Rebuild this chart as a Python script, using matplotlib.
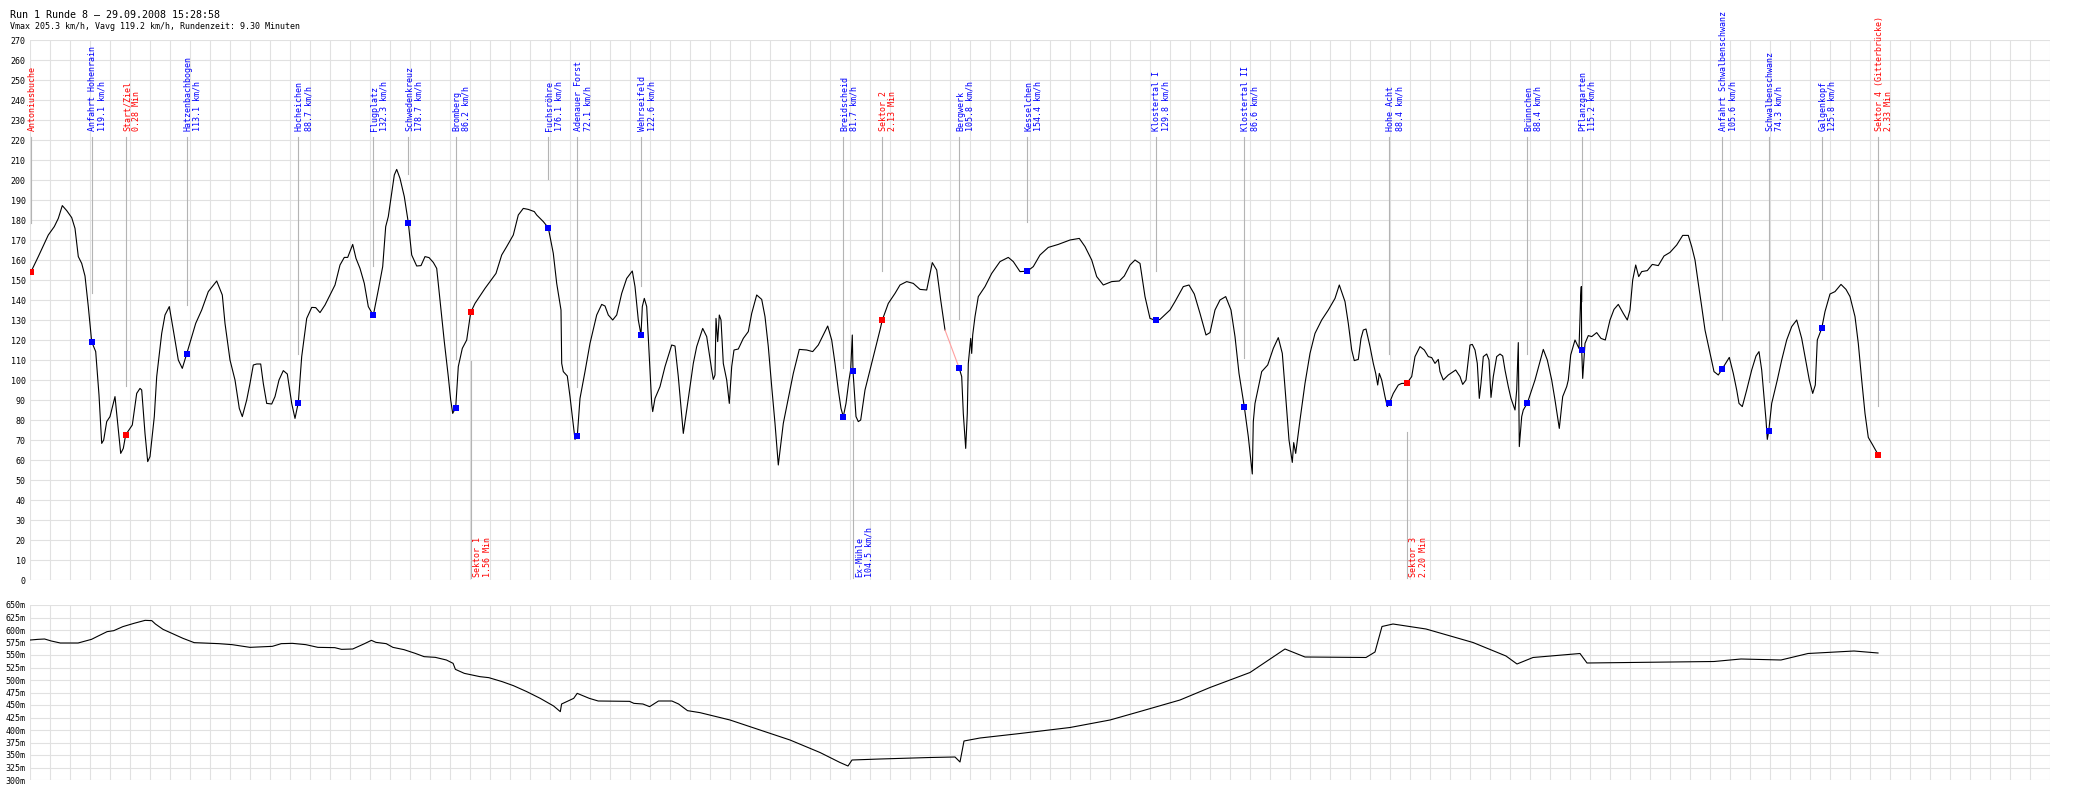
import matplotlib
matplotlib.use("Agg")
import matplotlib.pyplot as plt
import numpy as np

# ── Data: speed trace (x = track position in plot px, value in km/h) ─────────
dist = [0.7, 8.3, 18.3, 24.3, 28.3, 32.3, 36.7, 41.7, 45, 48.3, 51.7, 55, 58.3, 61.7, 65.7, 69, 71.7, 73.7,
        76.7, 80, 85, 87.7, 90.7, 93.3, 95.7, 102.3, 106.7, 110, 111.7, 115, 117.7, 120, 124.3, 126.7, 131.7,
        135, 139.3, 143.3, 148.3, 152.3, 156.7, 165.7, 171.7, 178.3, 186.7, 192.3, 195, 200, 205, 209.3,
        212.3, 216.7, 220, 223.3, 226.7, 230.7, 233.3, 236.7, 241.7, 245, 249, 253.3, 257.3, 261.7, 265,
        268.3, 271.7, 276.7, 281.7, 285.7, 290, 295, 300, 305, 310, 314.3, 317.7, 322.7, 326, 330, 334.3,
        338.3, 343.3, 348.3, 352.7, 355.7, 358.3, 361.7, 364.3, 366.7, 370, 374.3, 378.3, 381.7, 386.7, 391,
        395, 399, 403.3, 406.7, 410, 414.3, 418.3, 420.7, 422.7, 425.7, 428.3, 432.3, 436.7, 440.7, 445,
        455, 466, 471.7, 476.7, 483.3, 488.3, 493.3, 498.3, 504.3, 506.7, 513.3, 518.3, 523.3, 526.7, 531,
        531.7, 533.3, 537.3, 540, 542.7, 545, 547.3, 550, 555, 560, 566.7, 571.7, 575, 578.3, 582.7, 586.7,
        591.7, 596.7, 602.3, 605, 608.3, 611, 612.3, 614.3, 616.7, 619.3, 621.7, 622.7, 625, 630, 635,
        641.7, 645, 648.3, 653.3, 656.7, 663.3, 666.7, 672.7, 676.7, 681.7, 683.3, 685, 686, 687.7, 689.3,
        691, 693.3, 696.7, 699.3, 701.7, 704, 708.3, 713.3, 718.3, 721.7, 726.7, 731.7, 735, 738.3, 741.7,
        745, 748.3, 753.3, 758.3, 763.3, 769.3, 776.7, 782.7, 788.3, 793.3, 797.7, 801.7, 805, 808.3, 811,
        813.3, 816, 819, 820.7, 822.3, 823, 826, 828.3, 830.7, 835, 840, 846.7, 850, 852.3, 858.3, 865, 870,
        876.7, 883.3, 890, 896.7, 902.3, 906.7, 910.7, 915, 929.3, 931.7, 933.3, 935.7, 937.3, 938.3, 940.7,
        941.7, 942.7, 945, 948.3, 955, 961.7, 970, 978.3, 983.3, 990, 997.3, 1003.3, 1010, 1018.3, 1028.3,
        1040, 1049.3, 1055, 1061.7, 1066.7, 1073.3, 1081.7, 1089.3, 1094.3, 1100, 1105, 1110, 1115, 1120,
        1125.7, 1130, 1140, 1145, 1153.3, 1159, 1164.3, 1170, 1176, 1180, 1185, 1190, 1195.7, 1201, 1205,
        1209, 1214.3, 1218.3, 1222.3, 1223.3, 1225, 1231.7, 1237.7, 1243.3, 1248.3, 1252.3, 1255.7, 1259,
        1262.3, 1263.7, 1265.7, 1270, 1275, 1280, 1285, 1291.7, 1298.3, 1305, 1309.3, 1315, 1318.3, 1321.7,
        1324.3, 1328.3, 1331, 1333.3, 1336, 1340, 1343.3, 1345.7, 1347.7, 1349.3, 1351.7, 1355, 1357.3,
        1359.3, 1363.3, 1368.3, 1371.7, 1376.7, 1381.7, 1385, 1390, 1394.3, 1398.3, 1401.7, 1405, 1408.3,
        1410, 1413.3, 1418.3, 1425.7, 1430, 1432.7, 1436, 1440, 1442.3, 1445, 1447.3, 1449.3, 1451, 1453.3,
        1456.7, 1459, 1461, 1463.3, 1466.7, 1470, 1472.7, 1475, 1478.3, 1481, 1485, 1486.7, 1488.3, 1489.3,
        1491.7, 1493.3, 1497.3, 1505, 1513.3, 1517.3, 1521.7, 1525, 1529.3, 1532.7, 1536.7, 1538.3, 1540.7,
        1545, 1549, 1550.7, 1551.3, 1551.7, 1552.7, 1555, 1558.3, 1561.7, 1566.7, 1571, 1575.3, 1580, 1584,
        1588.3, 1593.3, 1597.3, 1600, 1602.7, 1605.7, 1608.7, 1611.7, 1617.3, 1622.3, 1628.3, 1634, 1640,
        1646.7, 1652.7, 1658.3, 1661.7, 1665, 1668.3, 1671.7, 1675, 1680, 1684, 1688.3, 1692.3, 1699.3,
        1703.3, 1706.7, 1709, 1712.3, 1716.7, 1721.7, 1726, 1729, 1731.7, 1734, 1736, 1737.3, 1738.7, 1741.7,
        1747.3, 1751.7, 1756.7, 1761.7, 1766.7, 1771.7, 1775.7, 1779.3, 1782.7, 1785.3, 1787.3, 1791.7, 1795,
        1800, 1805, 1811, 1816, 1820, 1825, 1828.3, 1831.7, 1835, 1838.3, 1842.7, 1848.3]
speed = [153.8, 161.7, 172.5, 176.7, 180.8, 187.2, 184.7, 181.2, 175.8, 161.7, 158.3, 152, 136.7, 119.1, 114.2,
         92.5, 68.3, 70, 79.2, 81.7, 91.7, 78.3, 63.3, 65.8, 72.6, 77.5, 93.3, 95.8, 95, 73.3, 59.2, 61.7,
         81.7, 101.7, 123.3, 132.5, 136.7, 125, 110, 105.8, 113.1, 128.3, 135, 144.2, 149.5, 142.5, 128.3,
         110, 100, 85.8, 81.7, 90, 98.3, 107.5, 108, 108, 98.3, 88.3, 88, 91.7, 100, 104.7, 103, 88.3, 80.8,
         88.7, 111.7, 130.8, 136.3, 136.2, 133.7, 137.5, 142.5, 147.5, 157.5, 161.3, 161.3, 167.8, 160.8,
         155.8, 148.3, 136.7, 132.3, 145, 156.7, 176.7, 181.7, 193.3, 202.5, 205.3, 200.8, 191.7, 178.7,
         162.5, 157, 157.2, 161.7, 161.2, 158.8, 155.8, 140, 119.2, 101.7, 90, 83.3, 86.2, 106.7, 115.8, 120,
         133.8, 138.3, 145.8, 153.3, 162.5, 166.7, 172.5, 182.5, 185.8, 185.3, 184.2, 182.5, 179.2, 176.1,
         163.3, 148.3, 135, 108.3, 104.2, 102, 91.7, 80, 70.3, 72.1, 90.8, 104.2, 118.3, 132.5, 137.8, 137,
         132.5, 130, 132.5, 143.3, 150.8, 154.5, 146.7, 130, 122.6, 136.7, 140.8, 136.7, 111.7, 88.3, 84.2,
         90.8, 96.7, 106.7, 117.5, 117, 101.7, 73.3, 85, 108.3, 116.7, 125.8, 121.7, 105, 100.3, 102.5, 130.8,
         119.2, 132.5, 130, 108.3, 100, 88.3, 106.7, 115, 115.5, 120.8, 124.2, 133.3, 142.5, 140.3, 131.7,
         116.7, 96.7, 78.3, 57.5, 78.3, 90.8, 103.3, 115.3, 115, 114.2, 117.5, 122.5, 127, 120, 108.3, 95,
         85.8, 81.7, 88.3, 100, 105.3, 122.5, 104.5, 81.7, 79.2, 80, 95, 105, 118.3, 125, 130, 138.3, 143.3,
         147.5, 149.2, 148.3, 145.3, 145, 158.7, 155, 140, 125, 105.8, 101.7, 83.3, 65.8, 83.3, 108.3, 120.8,
         113.3, 122.5, 131.7, 141.7, 146.7, 153.3, 159.2, 161.3, 159.2, 154.2, 154.4, 156.7, 162.5, 166.3,
         167.8, 170, 170.8, 166.7, 160, 151.7, 147.5, 149.2, 149.5, 152, 157.5, 160, 158.3, 141.7, 130.8,
         129.8, 130.3, 135, 139.2, 146.7, 147.5, 143, 133.3, 122.5, 123.7, 135, 140, 141.7, 135, 121.7, 103.3,
         86.6, 71.7, 53, 79.2, 88.3, 104.2, 107.5, 115.8, 121.2, 113.3, 91.7, 70, 58.8, 68.7, 63.3, 80, 98.3,
         113.3, 123.3, 130, 135, 140.8, 147.5, 139.2, 128.3, 115, 109.7, 110.3, 120.8, 125, 125.5, 116.7,
         108.3, 103.3, 97.5, 103.3, 100, 91.7, 86.7, 88.4, 93.3, 97.5, 98.3, 98.3, 101.7, 111.7, 116.7, 115,
         111.7, 111.2, 108.3, 110.3, 104.2, 100, 102.5, 105, 101.7, 97.8, 100, 117.5, 117.8, 115, 108.3, 90.8,
         98.3, 111.7, 113, 110, 91.3, 101.7, 111.7, 113, 112, 105, 96.7, 90.8, 85, 95, 118.7, 66.7, 81.7, 85,
         88.4, 100, 115.3, 110, 100, 90, 75.8, 91.7, 96.7, 100, 112.5, 120, 115.8, 141.7, 146.7, 115.2, 100.8,
         118.3, 122.2, 121.7, 123.7, 120.8, 120, 130, 135.3, 137.8, 133.3, 130, 135, 150, 157.5, 151.7, 154.2,
         154.7, 157.8, 157.2, 162, 163.8, 167.5, 172.3, 172.3, 166.7, 160, 148.3, 136.7, 125, 113.3, 104.2,
         102.5, 105.6, 111.3, 103.3, 95, 88.3, 86.7, 95, 105, 112, 114.2, 105, 91.7, 80, 70.3, 74.3, 88.3, 100,
         110, 120, 126.7, 130, 120.8, 110, 100, 93.3, 97.5, 120, 125.8, 134.2, 143, 144.2, 147.8, 145.3,
         141.7, 131.7, 118.3, 100, 83.3, 71.3, 67.5, 62.5]
GAP_START, GAP_END = 915, 929.3   # segment without data (drawn pink)

# ── Data: elevation profile (m) ──────────────────────────────────────────────
elev_x = [0.4, 8, 14.6, 21.3, 30.3, 48.1, 61.5, 68.2, 77.1, 83.8, 92.8, 103.9, 115.1, 121.8, 125.4, 133, 141.9,
          153, 164.2, 188.8, 202.1, 220, 242.3, 251.3, 262.4, 275.8, 287.9, 304.8, 311.5, 322.7, 333.8, 341.4,
          345.9, 356.2, 362.9, 374, 385.2, 394.1, 405.3, 416.4, 423.1, 425.4, 434.3, 449.9, 458.8, 472.2,
          483.4, 496.8, 510.2, 523.6, 530.3, 531.6, 543.7, 547.2, 559.3, 568.2, 599.5, 603.9, 612.9, 619.6,
          628.5, 641.9, 648.6, 657.5, 670, 700, 730, 760, 790, 810, 818, 822, 850, 900, 925, 930, 934, 950,
          990, 1040, 1080, 1110, 1150, 1180, 1220, 1255, 1275, 1336, 1345, 1352, 1363, 1396, 1443, 1476, 1487,
          1503, 1550, 1557, 1684, 1711, 1751, 1778, 1824, 1848]
elev_m = [580, 581.3, 582, 578, 574, 574, 581.3, 588, 596.7, 598.7, 606.7, 613.3, 619.3, 618.7, 612, 601.3,
          593.3, 583.3, 574.7, 572.7, 570.7, 565.3, 567.3, 572.7, 573.3, 570.7, 565.3, 564.7, 561.3, 562, 572,
          579.3, 575.3, 572.7, 565.3, 560.7, 553.3, 546.7, 545.3, 540, 533.3, 521.3, 513.3, 506.7, 504.7,
          496.7, 488.7, 476.7, 463.3, 448, 436.7, 452, 463.3, 473.3, 463.3, 458, 457.3, 453.3, 452, 446.7, 458,
          458, 452, 438.7, 434.7, 420, 400, 380, 355, 335, 328, 340, 342, 345, 346, 336, 378, 384, 393, 405,
          420, 437, 460, 485, 515, 562, 546, 545, 556, 607, 612, 602, 575, 548, 532, 545, 553, 534, 537, 542,
          540, 553, 558, 554]

# ── Data: waypoints / sector markers ─────────────────────────────────────────
mark_x = [0.7, 61.7, 95.7, 156.7, 268.3, 343.3, 378.3, 425.7, 440.7, 518.3, 547.3, 611, 813.3, 823, 852.3,
          929.3, 997.3, 1125.7, 1214.3, 1359.3, 1376.7, 1497.3, 1551.7, 1692.3, 1738.7, 1791.7, 1848.3]
mark_v = [153.8, 119.1, 72.6, 113.1, 88.7, 132.3, 178.7, 86.2, 133.8, 176.1, 72.1, 122.6, 81.7, 104.5, 130,
          105.8, 154.4, 129.8, 86.6, 88.4, 98.3, 88.4, 115.2, 105.6, 74.3, 125.8, 62.5]
mark_name = ["Antoniusbuche", "Anfahrt Hohenrain", "Start/Ziel", "Hatzenbachbogen", "Hocheichen",
             "Flugplatz", "Schwedenkreuz", "Bromberg", "Sektor 1", "Fuchsröhre", "Adenauer Forst",
             "Wehrseifeld", "Breidscheid", "Ex-Mühle", "Sektor 2", "Bergwerk", "Kesselchen", "Klostertal I",
             "Klostertal II", "Hohe Acht", "Sektor 3", "Brünnchen", "Pflanzgarten",
             "Anfahrt Schwalbenschwanz", "Schwalbenschwanz", "Galgenkopf", "Sektor 4 (Gitterbrücke)"]
mark_info = ["", "119.1 km/h", "0.28 Min", "113.1 km/h", "88.7 km/h", "132.3 km/h", "178.7 km/h",
             "86.2 km/h", "1.56 Min", "176.1 km/h", "72.1 km/h", "122.6 km/h", "81.7 km/h", "104.5 km/h",
             "2.13 Min", "105.8 km/h", "154.4 km/h", "129.8 km/h", "86.6 km/h", "88.4 km/h", "2.20 Min",
             "88.4 km/h", "115.2 km/h", "105.6 km/h", "74.3 km/h", "125.8 km/h", "2.33 Min"]
mark_sector = [True, False, True, False, False, False, False, False, True, False, False, False, False,
               False, True, False, False, False, False, False, True, False, False, False, False, False, True]
mark_below = ["Sektor 1", "Ex-Mühle", "Sektor 3"]

TITLE = "Run 1 Runde 8 – 29.09.2008 15:28:58"
SUBTITLE = "Vmax 205.3 km/h, Vavg 119.2 km/h, Rundenzeit: 9.30 Minuten"

# ── Style ────────────────────────────────────────────────────────────────────
FONT = "DejaVu Sans Mono"
CLR_GRID = "#e1e1e1"
CLR_GUIDE = "#b4b4b4"
CLR_SPEED = "#0000ff"
CLR_SECTOR = "#ff0000"
W, H = 2100, 800
XMAX = 2020

fig = plt.figure(figsize=(W / 100, H / 100), dpi=100, facecolor="white")
ax1 = fig.add_axes([30 / W, (H - 580) / H, XMAX / W, 540 / H])
ax2 = fig.add_axes([30 / W, (H - 780) / H, XMAX / W, 175 / H])

for ax in (ax1, ax2):
    ax.set_xlim(0, XMAX)
    ax.set_xticks(np.arange(0, XMAX + 1, 20))
    ax.set_xticklabels([])
    ax.tick_params(length=0, pad=3, labelsize=6)
    ax.grid(color=CLR_GRID, linewidth=0.8, zorder=0)
    for s in ax.spines.values():
        s.set_visible(False)

# ── Top: speed ───────────────────────────────────────────────────────────────
ax1.set_ylim(0, 270)
ax1.set_yticks(np.arange(0, 271, 10))
ax1.set_yticklabels([str(v) for v in range(0, 271, 10)], family=FONT, fontsize=6)

d = np.array(dist)
s = np.array(speed)
pre = d <= GAP_START
post = d >= GAP_END
ax1.plot(d[pre], s[pre], color="black", lw=0.8, zorder=3)
ax1.plot(d[post], s[post], color="black", lw=0.8, zorder=3)
gi = int(np.where(pre)[0][-1])
ax1.plot(d[gi:gi + 2], s[gi:gi + 2], color="#ffa0a0", lw=0.8, zorder=3)

for x, v, name, info, sec in zip(mark_x, mark_v, mark_name, mark_info, mark_sector):
    clr = CLR_SECTOR if sec else CLR_SPEED
    txt = name if not info else f"{name}\n{info}"
    if name in mark_below:
        ax1.plot([x, x], [v - 24.5, 1], color=CLR_GUIDE, lw=0.8, zorder=2)
        ax1.text(x + 2.5, 1.5, txt, rotation=90, rotation_mode="anchor", ha="left", va="top",
                 color=clr, family=FONT, fontsize=6, linespacing=1.05)
    else:
        ax1.plot([x, x], [221.5, v + 24.5], color=CLR_GUIDE, lw=0.8, zorder=2)
        ax1.text(x - 3.3, 224.5, txt, rotation=90, rotation_mode="anchor", ha="left", va="top",
                 color=clr, family=FONT, fontsize=6, linespacing=1.05)
    ax1.plot(x, v, marker="s", ms=3.7, mew=0, color=clr, zorder=4)

# ── Bottom: elevation ────────────────────────────────────────────────────────
ax2.set_ylim(300, 650)
ax2.set_yticks(np.arange(300, 651, 25))
ax2.set_yticklabels([f"{v}m" for v in range(300, 651, 25)], family=FONT, fontsize=6)
ax2.plot(elev_x, elev_m, color="black", lw=0.8, zorder=3)

# ── Header ───────────────────────────────────────────────────────────────────
fig.text(10 / W, 1 - 10 / H, TITLE, ha="left", va="top", family=FONT, fontsize=7.2)
fig.text(10 / W, 1 - 22 / H, SUBTITLE, ha="left", va="top", family=FONT, fontsize=6)

fig.savefig("out.png", dpi=100, facecolor="white")
